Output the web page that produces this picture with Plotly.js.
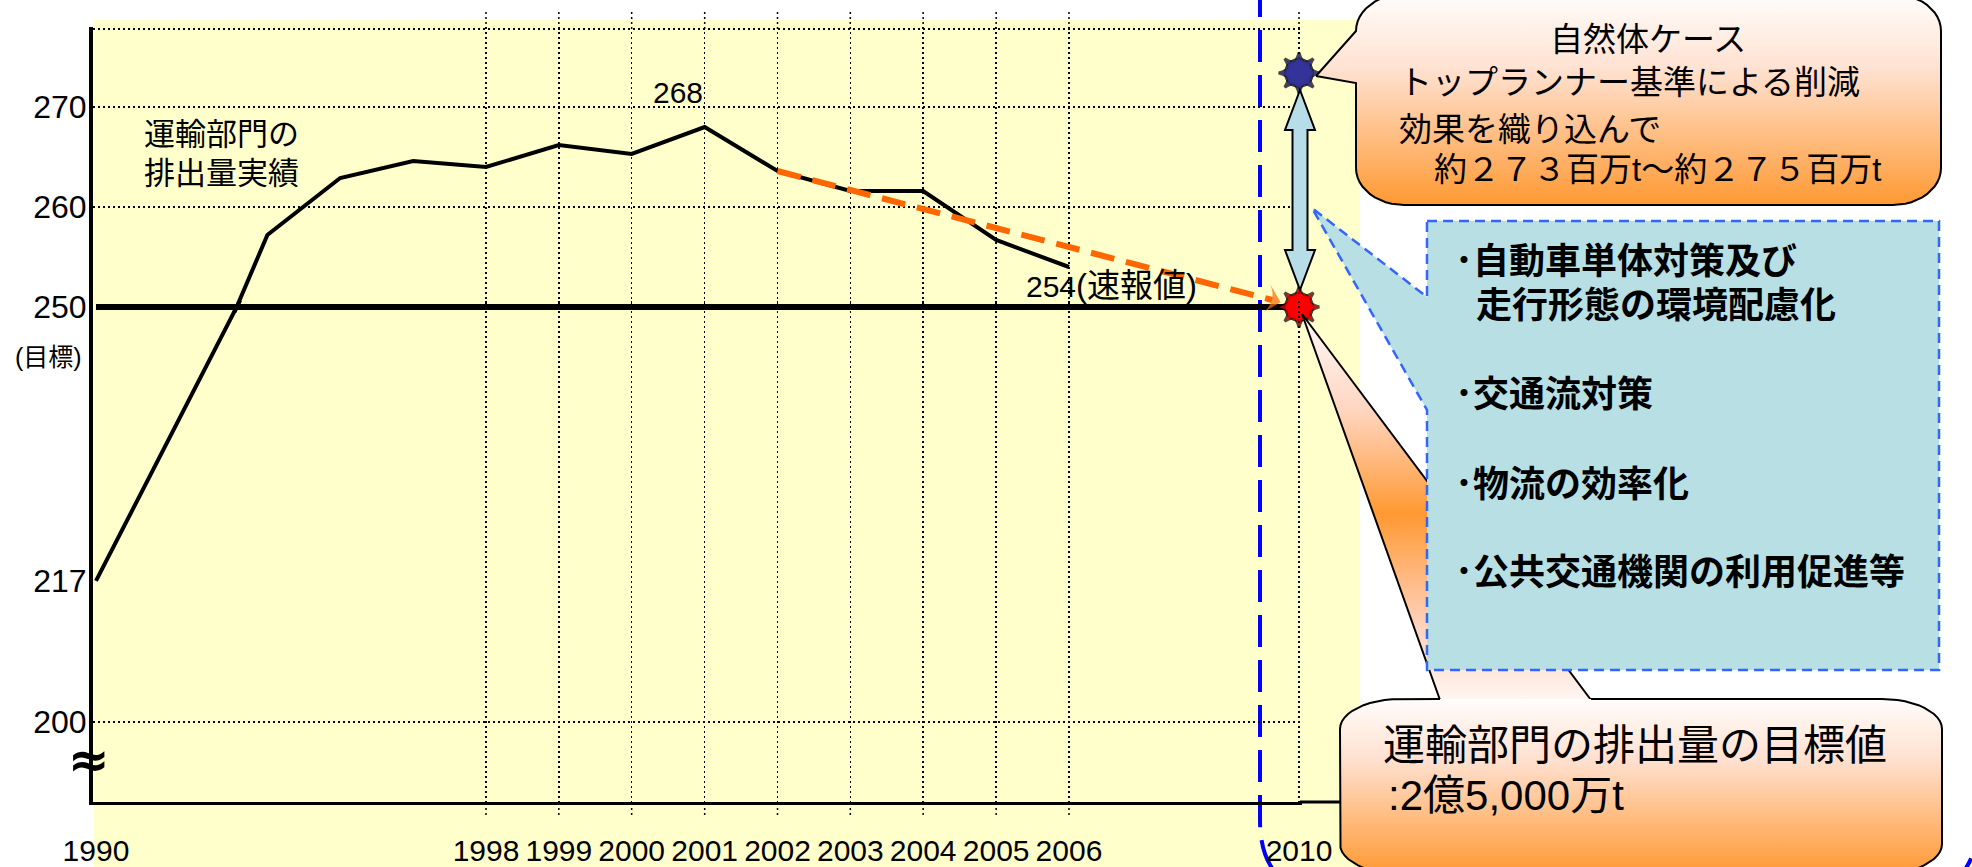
<!DOCTYPE html>
<html>
<head>
<meta charset="utf-8">
<script src="https://cdn.plot.ly/plotly-3.0.1.min.js"></script>
<style>html,body{margin:0;padding:0;background:#fff}</style>
</head>
<body>
<div id="chart" style="width:1972px;height:867px"></div>
<script>
// 運輸部門のCO2排出量（百万t）
const years = [1990, 1995, 1996, 1997, 1998, 1999, 2000, 2001, 2002, 2003, 2004, 2005, 2006];
const emissions = [217, 257.2, 262.9, 264.6, 264.0, 266.2, 265.3, 268, 263.6, 261.6, 261.6, 256.7, 254];
const targetYear = 2010;
const targetValue = 250;          // 目標値：2億5,000万t
const naturalCaseValue = 273.4;   // 自然体ケース（約273〜275百万t）
const trendFromYear = 2002;
const peakYear = 2001;
const tickYears = [1990, 1998, 1999, 2000, 2001, 2002, 2003, 2004, 2005, 2006, 2010];
const gridYears = [1998, 1999, 2000, 2001, 2002, 2003, 2004, 2005, 2006, 2010];
const upperTicks = [250, 260, 270];
const lowerTicks = [200, 217];
const upperGrid = [260, 270];
const lowerGrid = [200];
const frameTop = 277.8;

// ---- page geometry (pixels) ----
const W = 1972, H = 867;
const px = x => x / W;          // pixel -> paper x
const py = y => 1 - y / H;      // pixel -> paper y
const d = y => `${y}-01-01`;

// broken value axis: upper part 10 px / unit, lower part 8.3 px / unit
const upperScale = 10, lowerScale = 8.3;
const y250px = 307, y200px = 722, axisBottomPx = 802, axisTopPx = 27, overlap = 6;
const upperRange = [250 - overlap / upperScale, 250 + (y250px - axisTopPx) / upperScale];
const lowerRange = [200 - (axisBottomPx - y200px) / lowerScale, 250 + overlap / lowerScale];

const valueAt = yr => emissions[years.indexOf(yr)];

// ---- helpers for rounded callout outlines (pixel space) ----
function arc(cx, cy, rx, ry, a0, a1, n = 12) {
  const pts = [];
  for (let i = 0; i <= n; i++) {
    const a = a0 + (a1 - a0) * i / n;
    pts.push([cx + rx * Math.cos(a), cy + ry * Math.sin(a)]);
  }
  return pts;
}
const PI = Math.PI;
function toXY(pts) { return { x: pts.map(p => p[0]), y: pts.map(p => p[1]) }; }
function toPath(pts, close) {
  return pts.map((p, i) => (i ? 'L' : 'M') + px(p[0]).toFixed(5) + ',' + py(p[1]).toFixed(5)).join(' ') + (close ? ' Z' : '');
}

// upper callout (natural case)
const tc = { x0: 1356, x1: 1941, y0: -6, y1: 205, rx: 48, ry: 37 };
const topCallout = [[1316, 76], [tc.x0, tc.y0 + tc.ry],
  ...arc(tc.x0 + tc.rx, tc.y0 + tc.ry, tc.rx, tc.ry, PI, 1.5 * PI),
  ...arc(tc.x1 - tc.rx, tc.y0 + tc.ry, tc.rx, tc.ry, 1.5 * PI, 2 * PI),
  ...arc(tc.x1 - tc.rx, tc.y1 - tc.ry, tc.rx, tc.ry, 0, 0.5 * PI),
  ...arc(tc.x0 + tc.rx, tc.y1 - tc.ry, tc.rx, tc.ry, 0.5 * PI, PI),
  [tc.x0, 83], [1316, 76]];

// lower callout (target value)
const bc = { x0: 1340, x1: 1942, y0: 699, y1: 874, rx: 60, ry: 30 };
const bottomBox = [[1440, bc.y0],
  ...arc(bc.x0 + bc.rx, bc.y0 + bc.ry, bc.rx, bc.ry, 1.5 * PI, PI),
  ...arc(bc.x0 + bc.rx, bc.y1 - bc.ry, bc.rx, bc.ry, PI, 0.5 * PI),
  ...arc(bc.x1 - bc.rx, bc.y1 - bc.ry, bc.rx, bc.ry, 0.5 * PI, 0),
  ...arc(bc.x1 - bc.rx, bc.y0 + bc.ry, bc.rx, bc.ry, 2 * PI, 1.5 * PI),
  [1591, bc.y0]];
const bottomPointer = [[1440, 700], [1302, 314], [1591, 700]];

// measures box with pointer
const measuresBox = [[1427, 221], [1939, 221], [1939, 670], [1427, 670], [1427, 410], [1312, 208], [1427, 297]];

// double-headed arrow between the two stars
const dbl = [[1300, 90], [1315, 130], [1307.5, 130], [1307.5, 250], [1315, 250], [1300, 290],
             [1285, 250], [1292.5, 250], [1292.5, 130], [1285, 130]];

// eight-pointed seal = union of two four-pointed stars and a disc
const sealParts = [['star-square', 26], ['star-diamond', 29], ['circle', 27]];
const sealAt = [[targetValue, '#FF0000'], [naturalCaseValue, '#333399']];
const starX = [], starY = [], starSymbols = [], starSizes = [], starColors = [];
sealAt.forEach(([v, c]) => sealParts.forEach(([s, z]) => {
  starX.push(d(targetYear)); starY.push(v); starSymbols.push(s); starSizes.push(z); starColors.push(c);
}));

const lineStyle = { color: '#000', width: 4 };
const traces = [
  { x: years.map(d), y: emissions, xaxis: 'x', yaxis: 'y', mode: 'lines', line: lineStyle, hoverinfo: 'skip' },
  { x: years.map(d), y: emissions, xaxis: 'x', yaxis: 'y2', mode: 'lines', line: lineStyle, hoverinfo: 'skip' },
  { x: [d(years[0]), d(targetYear)], y: [targetValue, targetValue], xaxis: 'x', yaxis: 'y', mode: 'lines',
    line: { color: '#000', width: 6 }, hoverinfo: 'skip' },
  { x: [d(trendFromYear), d(targetYear)], y: [valueAt(trendFromYear), targetValue], xaxis: 'x', yaxis: 'y',
    mode: 'lines+markers', line: { color: '#FF6600', width: 6, dash: '24px,12px' },
    marker: { symbol: 'arrow-wide', size: [0, 22], color: '#FF6600', angleref: 'previous', standoff: 19,
      line: { width: 0 } },
    cliponaxis: false, hoverinfo: 'skip' },
  { x: starX, y: starY, xaxis: 'x', yaxis: 'y', mode: 'markers',
    marker: { symbol: starSymbols, size: starSizes, color: starColors, line: { color: '#000', width: 3 } },
    cliponaxis: false, hoverinfo: 'skip' },
  { x: starX, y: starY, xaxis: 'x', yaxis: 'y', mode: 'markers',
    marker: { symbol: starSymbols, size: starSizes, color: starColors, line: { width: 0 } },
    cliponaxis: false, hoverinfo: 'skip' },
  // callouts drawn on a full-page overlay
  Object.assign(toXY(topCallout), { xaxis: 'x3', yaxis: 'y3', mode: 'lines', fill: 'toself',
    fillgradient: { type: 'vertical', start: tc.y0, stop: tc.y1,
      colorscale: [[0, '#fffdfb'], [0.35, '#ffe2d2'], [1, '#ff9933']] },
    line: { color: '#000', width: 2 }, hoverinfo: 'skip' }),
  Object.assign(toXY(bottomPointer), { xaxis: 'x3', yaxis: 'y3', mode: 'lines', fill: 'toself',
    fillgradient: { type: 'vertical', start: 312, stop: 700,
      colorscale: [[0, '#fffaf8'], [0.25, '#ffd6c2'], [0.52, '#ff9933'], [0.8, '#ffd0b8'], [1, '#fff6f2']] },
    line: { color: '#000', width: 2 }, hoverinfo: 'skip' }),
  Object.assign(toXY(bottomBox), { xaxis: 'x3', yaxis: 'y3', mode: 'lines', fill: 'toself',
    fillgradient: { type: 'vertical', start: bc.y0, stop: bc.y1,
      colorscale: [[0, '#fffdfb'], [0.35, '#ffe0cf'], [1, '#ff9933']] },
    line: { color: '#000', width: 2 }, hoverinfo: 'skip' })
];

const dotGrid = { tickmode: 'array', showgrid: true, gridcolor: '#000', gridwidth: 1.5, griddash: '2px,3px', ticks: '' };

const jp = 'Liberation Sans, Arial, Noto Sans CJK JP, sans-serif';
function label(text, x, y, size, opts = {}) {
  return Object.assign({ xref: 'paper', yref: 'paper', x: px(x), y: py(y), text, showarrow: false,
    xanchor: 'left', yanchor: 'middle', font: { size, family: jp, color: '#000' } }, opts);
}
const boldFont = { size: 36, family: 'Noto Sans CJK JP', weight: 700, color: '#000' };

const annotations = [
  label('運輸部門の', 142, 135, 31),
  label('排出量実績', 142, 173, 31),
  label('(目標)', 48, 357, 25, { xanchor: 'center' }),
  label('≈', 89, 760, 50, { xanchor: 'center', font: { size: 50, family: 'DejaVu Sans', weight: 700, color: '#000' } }),
  { xref: 'x', yref: 'y', x: d(peakYear), y: valueAt(peakYear), text: String(valueAt(peakYear)), showarrow: false,
    xanchor: 'right', yanchor: 'middle', yshift: 35, font: { size: 30, color: '#000' } },
  { xref: 'x', yref: 'y', x: d(years[years.length - 1]), y: emissions[emissions.length - 1],
    text: `${emissions[emissions.length - 1]}<span style="font-size:33px">(速報値)</span>`, showarrow: false,
    xanchor: 'left', yanchor: 'middle', xshift: -45, yshift: -18, font: { size: 30, family: jp, color: '#000' } },
  // natural case callout
  label('自然体ケース', 1648, 39, 33, { xanchor: 'center' }),
  label('トップランナー基準による削減', 1397, 83, 33),
  label('効果を織り込んで', 1397, 129, 33),
  label('約２７３百万t～約２７５百万t', 1432, 170, 33),
  // measures
  label('･自動車単体対策及び', 1453, 258, 36, { font: boldFont }),
  label('走行形態の環境配慮化', 1474, 302, 36, { font: boldFont }),
  label('･交通流対策', 1453, 391, 36, { font: boldFont }),
  label('･物流の効率化', 1453, 481, 36, { font: boldFont }),
  label('･公共交通機関の利用促進等', 1453, 569, 36, { font: boldFont }),
  // target callout
  label('運輸部門の排出量の目標値', 1381, 745, 42),
  label(':2億5,000万t', 1386, 795, 42)
];

const shapes = [
  { type: 'rect', xref: 'paper', yref: 'paper', x0: px(94), x1: px(1360), y0: py(872), y1: py(20),
    fillcolor: '#FFFFCC', line: { width: 0 }, layer: 'below' },
  { type: 'path', xref: 'paper', yref: 'paper', layer: 'below', fillcolor: 'rgba(0,0,0,0)',
    path: `M${px(1260)},${py(-60)} L${px(1260)},${py(820)} Q${px(1260)},${py(895)} ${px(1335)},${py(895)} ` +
          `L${px(1903)},${py(895)} Q${px(1978)},${py(895)} ${px(1978)},${py(820)} L${px(1978)},${py(-60)}`,
    line: { color: '#0000FF', width: 4, dash: '32px,13px' } },
  { type: 'line', xref: 'paper', yref: 'paper', layer: 'below', x0: px(1300), x1: px(1346), y0: py(802), y1: py(802),
    line: { color: '#000', width: 3 } },
  ...gridYears.map(g => ({ type: 'line', xref: 'x', yref: 'paper', layer: 'below', x0: d(g), x1: d(g),
    y0: py(29), y1: py(10), line: { color: '#000', width: 1.5, dash: '2px,3px' } })),
  ...gridYears.filter(g => g !== targetYear).map(g => ({ type: 'line', xref: 'x', yref: 'paper', layer: 'below',
    x0: d(g), x1: d(g), y0: py(815), y1: py(802), line: { color: '#000', width: 1.5, dash: '2px,3px' } })),
  { type: 'path', xref: 'paper', yref: 'paper', layer: 'above', path: toPath(dbl, true),
    fillcolor: '#B7DEE8', line: { color: '#000', width: 2 } },
  { type: 'path', xref: 'paper', yref: 'paper', layer: 'above', path: toPath(measuresBox, true),
    fillcolor: '#B8DFE3', line: { color: '#3366FF', width: 2.5, dash: '10px,6px' } }
];

const axisCommon = { showline: true, linecolor: '#000', zeroline: false, showgrid: false, ticks: '',
  tickmode: 'array', fixedrange: true };

const layout = {
  width: W, height: H, margin: { l: 0, r: 0, t: 0, b: 0, pad: 0 },
  paper_bgcolor: '#fff', plot_bgcolor: 'rgba(0,0,0,0)', showlegend: false,
  font: { family: jp, color: '#000' },
  xaxis: Object.assign({}, axisCommon, {
    type: 'date', domain: [px(93), px(1302)], range: ['1989-12-17', '2010-01-16'],
    rangebreaks: [{ bounds: ['1991-06-01', '1994-01-23'] }, { bounds: ['2007-03-01', '2008-01-03'] }],
    anchor: 'y2', linewidth: 3, tickvals: tickYears.map(d), ticktext: tickYears.map(String),
    tickangle: 0, tickfont: { size: 30, color: '#000' }, ticklabelstandoff: 20,
    minor: Object.assign({}, dotGrid, { tickvals: gridYears.map(d) })
  }),
  yaxis: Object.assign({}, axisCommon, {
    domain: [py(y250px + overlap), py(axisTopPx)], range: upperRange, anchor: 'x', linewidth: 4,
    tickvals: upperTicks, tickfont: { size: 32, color: '#000' }, ticklabelstandoff: -4,
    minor: Object.assign({}, dotGrid, { tickvals: [...upperGrid, frameTop] })
  }),
  yaxis2: Object.assign({}, axisCommon, {
    domain: [py(axisBottomPx), py(y250px - overlap)], range: lowerRange, anchor: 'x', linewidth: 4,
    tickvals: lowerTicks, tickfont: { size: 32, color: '#000' }, ticklabelstandoff: -4,
    minor: Object.assign({}, dotGrid, { tickvals: lowerGrid })
  }),
  xaxis3: { domain: [0, 1], range: [0, W], visible: false, anchor: 'y3', fixedrange: true },
  yaxis3: { domain: [0, 1], range: [H, 0], visible: false, anchor: 'x3', fixedrange: true },
  shapes, annotations
};

Plotly.newPlot('chart', traces, layout, { staticPlot: true });
</script>
</body>
</html>
